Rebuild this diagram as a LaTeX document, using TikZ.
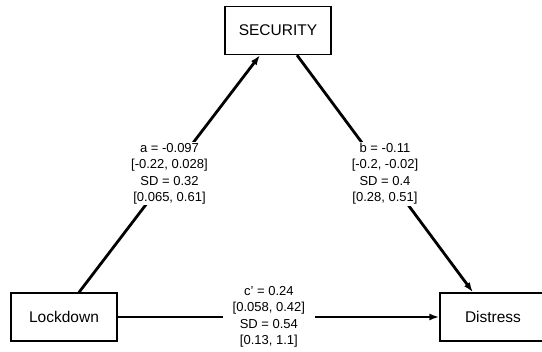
\documentclass[tikz,border=0pt]{standalone}
\usepackage{fontspec}
\setmainfont{Liberation Sans}
\usetikzlibrary{arrows.meta}
\begin{document}
\begin{tikzpicture}[x=1pt,y=1pt,
  var/.style={draw,line width=1.3pt,minimum width=106pt,minimum height=48pt,font=\fontsize{15.5}{18}\selectfont},
  path/.style={line width=2.8pt,-{Latex[length=10pt,width=7pt]}},
  est/.style={fill=white,align=center,inner sep=1pt,font=\fontsize{13}{16.5}\selectfont}]
  \useasboundingbox (0,0) rectangle (542,352);
  \node[var] (sec) at (278,321.5) {SECURITY};
  \node[var] (lock) at (64,35) {Lockdown};
  \node[var] (dist) at (493,35) {Distress};
  \draw[path] ([xshift=15pt]lock.north) -- node[est] {a = -0.097\\{}[-0.22, 0.028]\\SD = 0.32\\{}[0.065, 0.61]} ([xshift=-18pt]sec.south);
  \draw[path] ([xshift=19pt]sec.south) -- node[est] {b = -0.11\\{}[-0.2, -0.02]\\SD = 0.4\\{}[0.28, 0.51]} ([xshift=-20pt]dist.north);
  \draw[path] (lock.east) -- node[est,pos=0.47,inner xsep=10pt] {c' = 0.24\\{}[0.058, 0.42]\\SD = 0.54\\{}[0.13, 1.1]} (dist.west);
\end{tikzpicture}
\end{document}
